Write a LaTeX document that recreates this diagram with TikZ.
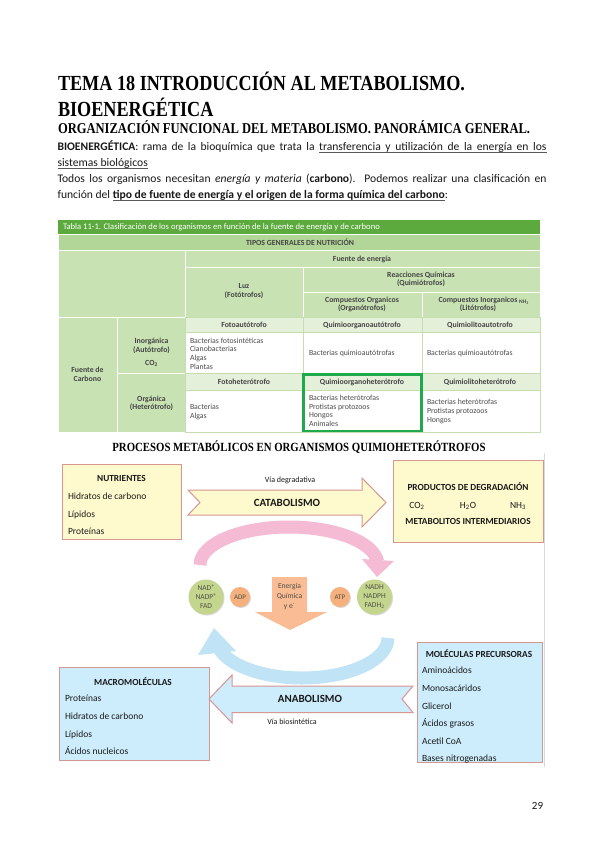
\documentclass[tikz,border=0pt]{standalone}
\usepackage{fontspec}
\setmainfont{Carlito}
\newfontfamily\cambr{Liberation Serif}
\usepackage{graphicx}
\usetikzlibrary{shadows}
\definecolor{bodyc}{RGB}{25,25,25}
\definecolor{ulc}{RGB}{90,90,90}
\definecolor{tgreen}{RGB}{92,170,62}
\definecolor{tgtwo}{RGB}{178,214,152}
\definecolor{tgthree}{RGB}{200,226,180}
\definecolor{tgfour}{RGB}{228,240,218}
\definecolor{tline}{RGB}{196,222,178}
\definecolor{hgreen}{RGB}{30,170,75}
\definecolor{ttext}{RGB}{75,75,75}
\definecolor{yelc}{RGB}{255,250,206}
\definecolor{salmon}{RGB}{214,150,146}
\definecolor{lbluec}{RGB}{205,237,252}
\definecolor{pinkc}{RGB}{245,187,212}
\definecolor{skyc}{RGB}{192,228,246}
\definecolor{cgreen}{RGB}{196,214,142}
\definecolor{corange}{RGB}{244,176,125}
\definecolor{aorange}{RGB}{249,188,148}
\definecolor{ctext}{RGB}{80,80,70}
\newcommand{\ulw}[1]{{\setbox0\hbox{#1}\rlap{\textcolor{ulc}{\vrule height -1.7pt depth 2.5pt width \wd0}}\box0}}
\newcommand{\ulsp}{\textcolor{ulc}{\leaders\hrule height -1.7pt depth 2.5pt\hskip 0.23em plus 0.12em minus 0.07em}}
\begin{document}
\begin{tikzpicture}[x=1pt,y=-1pt,
  every node/.style={inner sep=0pt, outer sep=0pt},
  body/.style={font=\fontsize{11.6}{13.5}\selectfont, anchor=base west, text=bodyc},
  tt/.style={font=\fontsize{7.8}{8.6}\selectfont, text=ttext, align=center},
  tb/.style={font=\fontsize{7.8}{8.6}\selectfont\bfseries, text=ttext!90!black, align=center},
  ttl/.style={tt, align=left, anchor=west},
  gcell/.style={draw=white, line width=0.8},
  wcell/.style={draw=tline, line width=0.6},
  ybox/.style={rectangle, draw=salmon, fill=yelc, line width=1, anchor=north west,
    drop shadow={opacity=0.25, shadow xshift=1.2pt, shadow yshift=-1.2pt}},
  bbox/.style={rectangle, draw=salmon, fill=lbluec, line width=1, anchor=north west,
    drop shadow={opacity=0.25, shadow xshift=1.2pt, shadow yshift=-1.2pt}},
  btitle/.style={font=\fontsize{9.3}{11}\selectfont\bfseries, text=bodyc},
  item/.style={font=\fontsize{9.5}{11}\selectfont, text=bodyc, anchor=base west},
  bigb/.style={font=\fontsize{11}{13}\selectfont\bfseries, text=bodyc},
  smalltxt/.style={font=\fontsize{8}{10}\selectfont, text=bodyc},
  gcirc/.style={circle, fill=cgreen, minimum size=35, align=center, text=ctext,
    font=\fontsize{7.5}{9}\selectfont,
    drop shadow={opacity=0.3, shadow xshift=1pt, shadow yshift=-1pt}},
  ocirc/.style={circle, fill=corange, minimum size=20, align=center, text=ctext,
    font=\fontsize{7}{8}\selectfont,
    drop shadow={opacity=0.3, shadow xshift=1pt, shadow yshift=-1pt}}
]
\useasboundingbox (0,0) rectangle (599,848);
\fill[white] (0,0) rectangle (599,848);

% ---------- headings ----------
\node[anchor=base west] (t1) at (58,90.5) {\scalebox{0.845}[1]{\cambr\bfseries\fontsize{21.5}{24}\selectfont TEMA 18 INTRODUCCIÓN AL METABOLISMO.}};
\node[anchor=base west] (t2) at (58,117) {\scalebox{0.845}[1]{\cambr\bfseries\fontsize{21.5}{24}\selectfont BIOENERGÉTICA}};
\node[anchor=base west] (st) at (58,134) {\scalebox{0.837}[1]{\cambr\bfseries\fontsize{15}{18}\selectfont ORGANIZACIÓN FUNCIONAL DEL METABOLISMO. PANORÁMICA GENERAL.}};

% ---------- body ----------
\node[body] (b1) at (57.5,150) {\hbox to 489pt{\textbf{BIOENERGÉTICA}: rama de la bioquímica que trata la \ulw{transferencia}\ulsp\ulw{y}\ulsp\ulw{utilización}\ulsp\ulw{de}\ulsp\ulw{la}\ulsp\ulw{energía}\ulsp\ulw{en}\ulsp\ulw{los}}};
\node[body] (b2) at (57.5,166) {\ulw{sistemas biológicos}};
\node[body] (b3) at (57.5,182) {\hbox to 489pt{Todos los organismos necesitan \textit{energía y materia} (\textbf{carbono}).\ \ Podemos realizar una clasificación en}};
\node[body] (b4) at (57.5,198) {función del \ulw{\textbf{tipo de fuente de energía y el origen de la forma química del carbono}}:};

% ---------- table ----------
\fill[tgreen] (58,220) rectangle (540,234.5);
\filldraw[gcell, fill=tgtwo] (58,234.5) rectangle (540,250.5);
\filldraw[gcell, fill=tgthree] (58,250.5) rectangle (185,317);
\filldraw[gcell, fill=tgthree] (185,250.5) rectangle (540,267);
\filldraw[gcell, fill=tgthree] (185,267) rectangle (303,317);
\filldraw[gcell, fill=tgthree] (303,267) rectangle (540,292);
\filldraw[gcell, fill=tgthree] (303,292) rectangle (422,317);
\filldraw[gcell, fill=tgthree] (422,292) rectangle (540,317);
\filldraw[gcell, fill=tgthree] (58,317) rectangle (117,432);
\filldraw[gcell, fill=tgthree] (117,317) rectangle (185,373.5);
\filldraw[gcell, fill=tgthree] (117,373.5) rectangle (185,432);
\filldraw[wcell, fill=tgfour] (185,317) rectangle (303,332.5);
\filldraw[wcell, fill=tgfour] (303,317) rectangle (422,332.5);
\filldraw[wcell, fill=tgfour] (422,317) rectangle (540,332.5);
\filldraw[wcell, fill=white] (185,332.5) rectangle (303,373.5);
\filldraw[wcell, fill=white] (303,332.5) rectangle (422,373.5);
\filldraw[wcell, fill=white] (422,332.5) rectangle (540,373.5);
\filldraw[wcell, fill=tgfour] (185,373.5) rectangle (303,390);
\filldraw[wcell, fill=tgfour] (303,373.5) rectangle (422,390);
\filldraw[wcell, fill=tgfour] (422,373.5) rectangle (540,390);
\filldraw[wcell, fill=white] (185,390) rectangle (303,432);
\filldraw[wcell, fill=white] (303,390) rectangle (422,432);
\filldraw[wcell, fill=white] (422,390) rectangle (540,432);
\draw[hgreen, line width=2.2] (303.5,374.5) rectangle (421.5,431);

\node[font=\fontsize{8.6}{9}\selectfont, text=white, anchor=west] (ttit) at (63,227.3) {Tabla 11-1. Clasificación de los organismos en función de la fuente de energía y de carbono};
\node[tb] (tipos) at (300,242.5) {TIPOS GENERALES DE NUTRICIÓN};
\node[tb] (fe) at (362,259) {Fuente de energía};
\node[tb] (luz) at (244,291) {Luz\\(Fotótrofos)};
\node[tb] (rq) at (421,279.5) {Reacciones Químicas\\(Quimiótrofos)};
\node[tb] (co) at (362,304.5) {Compuestos Organicos\\(Organótrofos)};
\node[tb] (ci) at (478,304.5) {Compuestos Inorganicos\\(Litótrofos)};
\node[font=\fontsize{5.5}{6}\selectfont\bfseries, text=ttext] (nh) at (524,302.5) {NH\textsubscript{3}};
\node[tb] (fa) at (244,325) {Fotoautótrofo};
\node[tb] (qoa) at (362,325) {Quimioorganoautótrofo};
\node[tb] (qla) at (480,325) {Quimiolitoautotrofo};
\node[tb] (fh) at (244,382) {Fotoheterótrofo};
\node[tb] (qoh) at (362,382) {Quimioorganoheterótrofo};
\node[tb] (qlh) at (480,382) {Quimiolitoheterótrofo};
\node[tb] (inorg) at (151.5,346) {Inorgánica\\(Autótrofo)};
\node[tb] (co2) at (151.5,363) {CO\textsubscript{2}};
\node[tb] (fc) at (87.5,374.5) {Fuente de\\Carbono};
\node[tb] (org) at (151.5,403.5) {Orgánica\\(Heterótrofo)};
\node[ttl] (c11) at (190,353.5) {Bacterias fotosintéticas\\Cianobacterias\\Algas\\Plantas};
\node[ttl] (c12) at (309,353.5) {Bacterias quimioautótrofas};
\node[ttl] (c13) at (427,353.5) {Bacterias quimioautótrofas};
\node[ttl] (c21) at (190,412) {Bacterias\\Algas};
\node[ttl] (c22) at (309,411) {Bacterias heterótrofas\\Protistas protozoos\\Hongos\\Animales};
\node[ttl] (c23) at (427,411.5) {Bacterias heterótrofas\\Protistas protozoos\\Hongos};

% ---------- diagram ----------
\node[anchor=base] (sec) at (299,451.5) {\scalebox{0.863}[1]{\cambr\bfseries\fontsize{12.5}{15}\selectfont PROCESOS METABÓLICOS EN ORGANISMOS QUIMIOHETERÓTROFOS}};

\draw[black!15, line width=0.8] (544.5,453) -- (544.5,767);

% boxes
\node[ybox, minimum width=119, minimum height=75] (nutr) at (62,464) {};
\node[btitle] (nutt) at (121.5,478.5) {NUTRIENTES};
\node[item] (n1) at (68,499) {Hidratos de carbono};
\node[item] (n2) at (68,517) {Lípidos};
\node[item] (n3) at (68,534) {Proteínas};

\node[ybox, minimum width=150, minimum height=82] (prod) at (393,460) {};
\node[btitle] (prodt) at (468,487) {PRODUCTOS DE DEGRADACIÓN};
\node[item, anchor=base] (p1) at (417,508) {CO\textsubscript{2}};
\node[item, anchor=base] (p2) at (468,508) {H\textsubscript{2}O};
\node[item, anchor=base] (p3) at (518,508) {NH\textsubscript{3}};
\node[btitle] (prodm) at (468,521.5) {METABOLITOS INTERMEDIARIOS};

% catabolism arrow
\filldraw[fill=yelc, draw=salmon, line width=1] (188,490) -- (362,490) -- (362,478) -- (386,502.5) -- (362,527) -- (362,515) -- (188,515) -- (200,502.5) -- cycle;
\node[smalltxt] (vd) at (290,480.5) {Vía degradativa};
\node[bigb] (cat) at (287,502.5) {CATABOLISMO};

% cycle arcs
\draw[pinkc, line width=13] (200,565) arc[start angle=180, end angle=355, x radius=89, y radius=38];
\fill[pinkc] (362,559) -- (394,561) -- (377,577) -- cycle;
\draw[skyc, line width=13] (388,638) arc[start angle=0, end angle=165, x radius=86, y radius=40];
\fill[skyc] (198,655) -- (236,651) -- (214,628) -- cycle;

% energy arrow
\fill[aorange] (272,577) -- (307,577) -- (307,612) -- (327,612) -- (290,630) -- (255,612) -- (272,612) -- cycle;
\node[align=center, text=ctext, font=\fontsize{7.6}{9.6}\selectfont] (en) at (289.5,596.5) {Energía\\Química\\y e\textsuperscript{-}};

% circles
\node[gcirc] (nad) at (206,597) {NAD\textsuperscript{+}\\NADP\textsuperscript{+}\\FAD};
\node[ocirc] (adp) at (240,597) {ADP};
\node[ocirc] (atp) at (340,597) {ATP};
\node[gcirc] (nadh) at (374.5,597) {NADH\\NADPH\\FADH\textsubscript{2}};

% lower boxes
\node[bbox, minimum width=125, minimum height=120] (prec) at (417,642) {};
\node[btitle] (prect) at (479,653.5) {MOLÉCULAS PRECURSORAS};
\node[item] (m1) at (422,673) {Aminoácidos};
\node[item] (m2) at (422,691) {Monosacáridos};
\node[item] (m3) at (422,709) {Glicerol};
\node[item] (m4) at (422,726.5) {Ácidos grasos};
\node[item] (m5) at (422,744) {Acetil CoA};
\node[item] (m6) at (422,761) {Bases nitrogenadas};

\node[bbox, minimum width=150, minimum height=93] (macro) at (59,667) {};
\node[btitle] (macrot) at (133,682) {MACROMOLÉCULAS};
\node[item] (a1) at (65,701.5) {Proteínas};
\node[item] (a2) at (65,719) {Hidratos de carbono};
\node[item] (a3) at (65,737) {Lípidos};
\node[item] (a4) at (65,754.5) {Ácidos nucleicos};

% anabolism arrow
\filldraw[fill=lbluec, draw=salmon, line width=1] (209,699) -- (232,675) -- (232,686) -- (413,686) -- (402,699) -- (413,712.5) -- (232,712.5) -- (232,723) -- cycle;
\node[bigb] (ana) at (310,699) {ANABOLISMO};
\node[smalltxt] (vb) at (292,722) {Vía biosintética};

\node[font=\fontsize{11}{13}\selectfont, text=bodyc] (pg) at (537.5,806) {29};
\end{tikzpicture}
\end{document}
